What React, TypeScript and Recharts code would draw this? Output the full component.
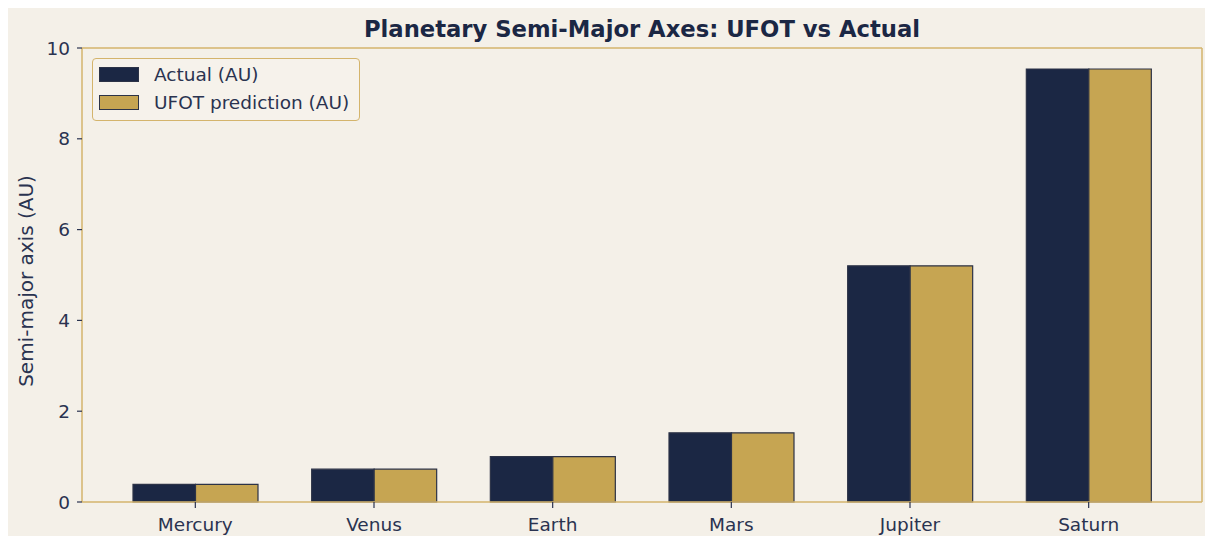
import { BarChart, Bar, XAxis, YAxis, Legend, Label } from "recharts";

const planets = ["Mercury", "Venus", "Earth", "Mars", "Jupiter", "Saturn"];
const actualAU = [0.387, 0.723, 1.0, 1.524, 5.203, 9.537];
const ufotAU = [0.387, 0.723, 1.0, 1.524, 5.203, 9.537];
const yTicks = [0, 2, 4, 6, 8, 10];

const NAVY = "#1b2744";
const GOLD = "#c6a552";
const SPINE = "#d4b46c";
const BG = "#f4f0e8";
const TEXT = "#2a3350";
const EDGE = "#2c3347";
const FONT = "'DejaVu Sans', sans-serif";

const data = planets.map((name, i) => ({
  name,
  actual: actualAU[i],
  ufot: ufotAU[i],
}));

const legendItems = [
  { label: "Actual (AU)", color: NAVY },
  { label: "UFOT prediction (AU)", color: GOLD },
];

const LegendBox = () => (
  <div
    style={{
      boxSizing: "border-box",
      width: 268,
      height: 63,
      border: `1.5px solid ${SPINE}`,
      borderRadius: 4,
      background: "rgba(246,242,235,0.8)",
      fontFamily: FONT,
      fontSize: 18.5,
      color: TEXT,
      position: "relative",
    }}
  >
    {legendItems.map((item, i) => (
      <div
        key={item.label}
        style={{
          position: "absolute",
          left: 6,
          top: 3 + i * 28,
          height: 24,
          display: "flex",
          alignItems: "center",
          whiteSpace: "nowrap",
        }}
      >
        <span
          style={{
            display: "inline-block",
            boxSizing: "border-box",
            width: 40,
            height: 15,
            background: item.color,
            border: `1.2px solid ${EDGE}`,
            marginRight: 15,
          }}
        />
        {item.label}
      </div>
    ))}
  </div>
);

const YLabel = () => (
  <text
    x={33}
    y={281}
    transform="rotate(-90, 33, 281)"
    textAnchor="middle"
    fill={TEXT}
    fontFamily={FONT}
    fontSize={20}
  >
    Semi-major axis (AU)
  </text>
);

export default function App() {
  return (
    <div
      style={{
        position: "relative",
        margin: -8,
        width: 1213,
        height: 544,
        background: "#ffffff",
      }}
    >
      <div
        style={{
          position: "absolute",
          left: 6,
          top: 5,
          width: 1204,
          height: 535,
          background: BG,
        }}
      />
      <div
        style={{
          position: "absolute",
          left: 0,
          width: 1284,
          top: 18,
          textAlign: "center",
          fontFamily: FONT,
          fontWeight: "bold",
          fontSize: 22.7,
          lineHeight: "22.7px",
          color: NAVY,
        }}
      >
        Planetary Semi-Major Axes: UFOT vs Actual
      </div>
      <div style={{ position: "absolute", left: 0, top: 0 }}>
        <BarChart
          width={1213}
          height={544}
          data={data}
          margin={{ top: 38, right: 1, bottom: 0, left: 22 }}
          barGap={0}
          barSize={62.5}
        >
          <XAxis
            dataKey="name"
            padding={{ left: 24, right: 24 }}
            stroke={SPINE}
            strokeWidth={1.5}
            axisLine
            tickLine={{ stroke: TEXT, strokeWidth: 1.2 }}
            tickSize={6}
            tickMargin={10}
            tick={{ fill: TEXT, fontFamily: FONT, fontSize: 18.5 }}
            height={42}
          />
          <XAxis
            xAxisId="top"
            dataKey="name"
            orientation="top"
            stroke={SPINE}
            strokeWidth={1.5}
            axisLine
            tick={false}
            tickLine={false}
            height={10}
          />
          <YAxis
            domain={[0, 10]}
            ticks={yTicks}
            width={60}
            stroke={SPINE}
            strokeWidth={1.5}
            axisLine
            tickLine={{ stroke: TEXT, strokeWidth: 1.2 }}
            tickSize={5}
            tickMargin={7}
            tick={{ fill: TEXT, fontFamily: FONT, fontSize: 18.5 }}
          >
            <Label content={<YLabel />} />
          </YAxis>
          <YAxis
            yAxisId="right"
            orientation="right"
            domain={[0, 10]}
            width={10}
            stroke={SPINE}
            strokeWidth={1.5}
            axisLine
            tick={false}
            tickLine={false}
          />
          <Legend
            layout="horizontal"
            verticalAlign="middle"
            align="center"
            wrapperStyle={{ left: 92, top: 58, width: 268, height: 63 }}
            content={<LegendBox />}
          />
          <Bar
            dataKey="actual"
            name="Actual (AU)"
            fill={NAVY}
            stroke={EDGE}
            strokeWidth={1.2}
            isAnimationActive={false}
          />
          <Bar
            dataKey="ufot"
            name="UFOT prediction (AU)"
            fill={GOLD}
            stroke={EDGE}
            strokeWidth={1.2}
            isAnimationActive={false}
          />
        </BarChart>
      </div>
    </div>
  );
}
